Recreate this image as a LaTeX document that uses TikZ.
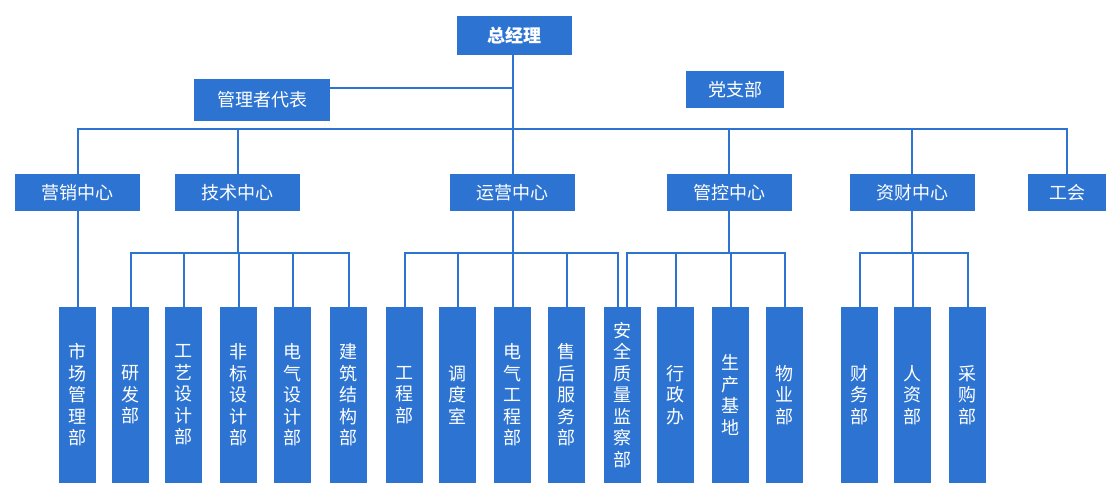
\documentclass[tikz,border=0pt]{standalone}
\usepackage{fontspec}
\newfontfamily\cjk{Noto Sans CJK SC}
\usepackage{tikz}
\definecolor{orgblue}{RGB}{45,116,210}

\begin{document}
\begin{tikzpicture}[x=1pt, y=-1pt]
    \tikzset{
        box/.style={
            fill=orgblue, text=white, inner sep=0pt,
            font=\cjk\fontsize{18}{21.5}\selectfont
        },
        topbox/.style={box, minimum width=115pt, minimum height=39pt},
        midbox/.style={box, minimum width=125pt, minimum height=37pt},
        deptbox/.style={
            box, minimum width=37pt, minimum height=176pt,
            align=center, text width=20pt
        },
        link/.style={draw=orgblue, line width=2pt}
    }
    \useasboundingbox (0,0) rectangle (1120,500);

    % ==== Top level ====
    \node[topbox, font=\cjk\bfseries\fontsize{18}{21.5}\selectfont] (zjl) at (514.5,35.5) {总经理};
    \node[box, minimum width=136pt, minimum height=42pt] (glzdb) at (262,100) {管理者代表};
    \node[box, minimum width=98pt, minimum height=37pt] (dzb) at (735,89.5) {党支部};

    % ==== Centres ====
    \node[midbox] (yx) at (77.5,192.5) {营销中心};
    \node[midbox] (js) at (237.5,192.5) {技术中心};
    \node[midbox] (yy) at (512.5,192.5) {运营中心};
    \node[midbox] (gk) at (729,192.5) {管控中心};
    \node[midbox] (zc) at (912,192.5) {资财中心};
    \node[box, minimum width=78pt, minimum height=37pt] (gh) at (1067,192.5) {工会};

    % ==== Departments ====
    \node[deptbox] (scglb) at (77.5,395) {市\\场\\管\\理\\部};
    \node[deptbox] (yfb)   at (130.5,395) {研\\发\\部};
    \node[deptbox] (gysjb) at (183.5,395) {工\\艺\\设\\计\\部};
    \node[deptbox] (fbsjb) at (238.5,395) {非\\标\\设\\计\\部};
    \node[deptbox] (dqsjb) at (292.5,395) {电\\气\\设\\计\\部};
    \node[deptbox] (jzjgb) at (348.5,395) {建\\筑\\结\\构\\部};
    \node[deptbox] (gcb)   at (404.5,395) {工\\程\\部};
    \node[deptbox] (dds)   at (457.5,395) {调\\度\\室};
    \node[deptbox] (dqgcb) at (512.5,395) {电\\气\\工\\程\\部};
    \node[deptbox] (shfwb) at (566.5,395) {售\\后\\服\\务\\部};
    \node[deptbox] (aqzl)  at (622.5,395) {安\\全\\质\\量\\监\\察\\部};
    \node[deptbox] (xzb)   at (675.5,395) {行\\政\\办};
    \node[deptbox] (scjd)  at (730.5,395) {生\\产\\基\\地};
    \node[deptbox] (wyb)   at (784.5,395) {物\\业\\部};
    \node[deptbox] (cwb)   at (859.5,395) {财\\务\\部};
    \node[deptbox] (rzb)   at (912.5,395) {人\\资\\部};
    \node[deptbox] (cgb)   at (967.5,395) {采\\购\\部};

    % ==== Connectors ====
    \coordinate (busA) at (513,129);
    \coordinate (dbj) at (513,88);
    \coordinate (busB) at (0,253);
    \draw[link] (zjl.south -| busA) -- (busA);
    \draw[link] (dbj) -- (dbj -| glzdb.east);
    \draw[link] (yx.north) |- (busA) -| (gh.north);
    \foreach \c in {js,yy,gk,zc}
        \draw[link] (\c.north) -- (\c.north |- busA);

    \draw[link] (yx.south) -- (scglb.north);

    \draw[link] (js.south) -- (js.south |- busB);
    \draw[link] (yfb.north) |- (busB -| js.south) -| (jzjgb.north);
    \foreach \d in {gysjb,fbsjb,dqsjb}
        \draw[link] (\d.north) -- (\d.north |- busB);

    \draw[link] (yy.south) -- (yy.south |- busB);
    \draw[link] (gcb.north) |- (busB -| yy.south) -| ([xshift=-4.5pt]aqzl.north);
    \foreach \d in {dds,dqgcb,shfwb}
        \draw[link] (\d.north) -- (\d.north |- busB);

    \draw[link] (gk.south) -- (gk.south |- busB);
    \draw[link] ([xshift=4.5pt]aqzl.north) |- (busB -| gk.south) -| (wyb.north);
    \foreach \d in {xzb,scjd}
        \draw[link] (\d.north) -- (\d.north |- busB);

    \draw[link] (zc.south) -- (zc.south |- busB);
    \draw[link] (cwb.north) |- (busB -| zc.south) -| (cgb.north);
    \draw[link] (rzb.north) -- (rzb.north |- busB);

\end{tikzpicture}
\end{document}
